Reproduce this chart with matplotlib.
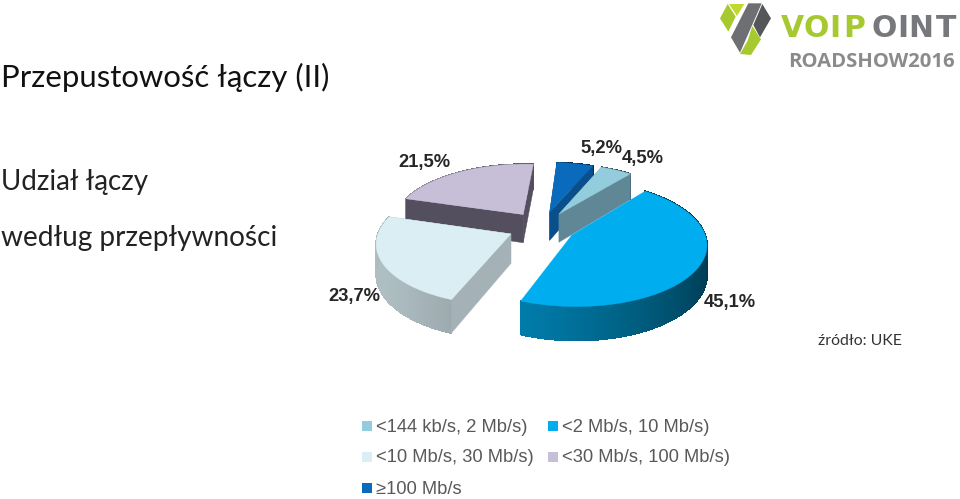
import numpy as np
import matplotlib
matplotlib.use("Agg")
import matplotlib.pyplot as plt
from matplotlib.collections import PolyCollection
from matplotlib.colors import to_rgb
from matplotlib.patches import Polygon, Rectangle

# pie data, clockwise from the start angle
categories = ["<144 kb/s, 2 Mb/s)", "<2 Mb/s, 10 Mb/s)", "<10 Mb/s, 30 Mb/s)",
              "<30 Mb/s, 100 Mb/s)", "\u2265100 Mb/s"]
shares = [4.5, 45.1, 23.7, 21.5, 5.2]
share_labels = ["4,5%", "45,1%", "23,7%", "21,5%", "5,2%"]
top_colours = ["#93cddd", "#00aeef", "#dbeef4", "#c7bed8", "#0a6bbd"]
cut_colours = ["#5f8795", None, "#a4b2b8", "#544f5e", "#084f8c"]
label_pos = [(643, 158), (730, 303), (354, 297), (424, 162), (601, 148)]
legend_pos = [(362, 426), (548, 426), (362, 457), (548, 457), (362, 488)]

# projection of the tilted pie onto figure pixels
CX, CY = 542, 227
RX, RY = 131, 60
PERSP = 0.13
DEPTH = 29
EXPLODE = 0.26
START = 51  # degrees, the pie runs clockwise from here
DRAW_ORDER = [3, 4, 0, 2, 1]  # back slices first


def project(u, v, z=0.0):
    s = 1 / (1 + PERSP * np.asarray(v))
    return CX + RX * np.asarray(u) * s, CY - RY * np.asarray(v) * s + z * DEPTH * s


def shade(theta):
    return 0.55 + 0.25 * np.cos(np.radians(theta - 200))


def draw_slice(ax, a0, a1, colour, cut):
    # a0 > a1, clockwise
    mid = np.radians((a0 + a1) / 2)
    ou, ov = EXPLODE * np.cos(mid), EXPLODE * np.sin(mid)
    th = np.linspace(a0, a1, 240)
    u = ou + np.cos(np.radians(th))
    v = ov + np.sin(np.radians(th))
    base = np.array(to_rgb(colour))

    # outer wall first, the cut faces and the top sit over it
    xt, yt = project(u, v)
    xb, yb = project(u, v, 1)
    quads = []
    cols = []
    for i in range(len(th) - 1):
        quads.append([(xt[i], yt[i]), (xt[i + 1], yt[i + 1]),
                      (xb[i + 1], yb[i + 1]), (xb[i], yb[i])])
        cols.append(np.clip(base * shade(th[i]), 0, 1))
    ax.add_collection(PolyCollection(quads, facecolors=cols, edgecolors=cols,
                                     linewidths=0.5, antialiaseds=False))

    # cut faces
    if cut is not None:
        for i in (0, -1):
            x0, y0 = project(ou, ov)
            x1, y1 = project(ou, ov, 1)
            x2, y2 = project(u[i], v[i], 1)
            x3, y3 = project(u[i], v[i])
            ax.add_patch(Polygon([(x0, y0), (x1, y1), (x2, y2), (x3, y3)],
                                 fc=cut, ec=cut, lw=0.3))

    # top face
    x0, y0 = project(ou, ov)
    pts = [(x0, y0)] + list(zip(xt, yt))
    ax.add_patch(Polygon(pts, fc=colour, ec=colour, lw=0.3))


def draw_logo(ax):
    green = "#a6c92f"
    lime = "#c3d82e"
    grey = "#6e6f72"
    dark = "#55565a"
    # traced on a 3x crop of the logo
    shapes = [
        ([(15, 55), (38, 12), (62, 50), (40, 95)], green),
        ([(42, 12), (88, 12), (66, 48)], lime),
        ([(100, 10), (140, 10), (75, 158), (48, 112)], grey),
        ([(142, 12), (168, 55), (135, 112), (115, 75)], dark),
        ([(112, 78), (138, 118), (108, 165), (75, 162), (98, 122)], green),
    ]
    for pts, c in shapes:
        ax.add_patch(Polygon([(715 + x / 3, y / 3) for x, y in pts], fc=c, ec="none"))
    letters = "VOIPOINT"
    centres = [792, 816, 834.5, 854, 884.5, 902.5, 921, 946.5]
    for k, (ch, xc) in enumerate(zip(letters, centres)):
        ax.text(xc, 28.5, ch, color=green if k < 4 else "#77787b", fontsize=21.5,
                fontweight="bold", family="DejaVu Sans", va="center", ha="center")
    ax.text(955, 62, "ROADSHOW2016", color="#8a8b8d", fontsize=14.6, fontweight="bold",
            family="Open Sans", va="center", ha="right")


fig = plt.figure(figsize=(9.6, 4.99), dpi=100)
ax = fig.add_axes([0, 0, 1, 1])
ax.set_xlim(0, 960)
ax.set_ylim(499, 0)
ax.axis("off")

# slice angles from the shares
total = sum(shares)
edges = START - np.concatenate([[0], np.cumsum(shares)]) / total * 360
# the first listed slice sits just before the big one, so shift by its width
edges = edges + shares[0] / total * 360

for i in DRAW_ORDER:
    draw_slice(ax, edges[i], edges[i + 1], top_colours[i], cut_colours[i])

for lab, (x, y) in zip(share_labels, label_pos):
    ax.text(x, y, lab, fontsize=13.2, fontweight="bold", family="Liberation Sans",
            color="#262626", ha="center", va="center")

for cat, col, (x, y) in zip(categories, top_colours, legend_pos):
    ax.add_patch(Rectangle((x, y - 5), 10, 10, fc=col, ec="none"))
    ax.text(x + 14, y + 1, cat, fontsize=13.2, family="Liberation Sans", color="#595959",
            ha="left", va="center")

ax.text(1, 77, "Przepustowość łączy (II)", fontsize=22.4, family="Lato", color="#111111",
        ha="left", va="center")
ax.text(1, 182, "Udział łączy", fontsize=20, family="Lato", color="#222222",
        ha="left", va="center")
ax.text(1, 238, "według przepływności", fontsize=20.2, family="Lato", color="#222222",
        ha="left", va="center")
ax.text(818, 341, "źródło: UKE", fontsize=11.4, family="Lato", color="#333333",
        ha="left", va="center")

draw_logo(ax)

fig.savefig("out.png", dpi=100)
